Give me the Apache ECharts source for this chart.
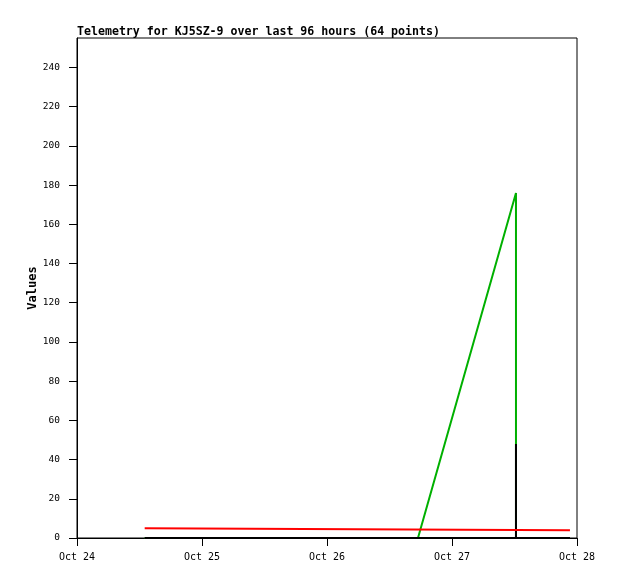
<!DOCTYPE html>
<html>
<head>
<meta charset="utf-8">
<script src="https://cdn.jsdelivr.net/npm/echarts@6/dist/echarts.min.js"></script>
<style>
html,body{margin:0;padding:0;background:#fff;}
#c{width:618px;height:579px;}
</style>
</head>
<body>
<div id="c"></div>
<script>
// ---- data ----
var titleText = 'Telemetry for KJ5SZ-9 over last 96 hours (64 points)';
var yName = 'Values';
var xStart = '2024-10-24T00:00:00Z';
var xEnd = '2024-10-28T00:00:00Z';
var xTickLabels = ['Oct 24', 'Oct 25', 'Oct 26', 'Oct 27', 'Oct 28'];
var yTicks = [0, 20, 40, 60, 80, 100, 120, 140, 160, 180, 200, 220, 240];
var yMax = 255;

var greenTimes = ['2024-10-24T13:00:00Z', '2024-10-26T17:28:00Z', '2024-10-27T12:17:00Z', '2024-10-27T12:17:00Z', '2024-10-27T22:39:00Z'];
var greenValues = [0, 0, 176, 0, 0];

var blackTimes = ['2024-10-24T13:00:00Z', '2024-10-27T12:17:00Z', '2024-10-27T12:17:00Z', '2024-10-27T12:17:00Z', '2024-10-27T22:39:00Z'];
var blackValues = [0, 0, 48, 0, 0];

var redTimes = ['2024-10-24T13:00:00Z', '2024-10-24T13:00:00Z', '2024-10-27T22:39:00Z'];
var redValues = [5, 4, 4];

// ---- build ----
var DAY = 86400000;
function t(s) { return new Date(s).getTime(); }
function pairs(ts, vs) { return ts.map(function (s, i) { return [t(s), vs[i]]; }); }
var xMin = t(xStart), xMax = t(xEnd);
var xTickValues = xTickLabels.map(function (_, i) { return xMin + i * DAY; });

var mono = 'DejaVu Sans Mono';
var chart = echarts.init(document.getElementById('c'), null, { renderer: 'canvas' });
chart.setOption({
  backgroundColor: '#fff',
  animation: false,
  title: {
    text: titleText,
    left: 77, top: 26,
    padding: 0,
    textStyle: { fontFamily: mono, fontSize: 11.6, fontWeight: 'bold', color: '#000' }
  },
  grid: {
    left: 77, right: 41, top: 38, bottom: 41,
    show: true, borderColor: '#000', borderWidth: 1, backgroundColor: '#fff'
  },
  xAxis: {
    type: 'value',
    min: xMin, max: xMax, interval: DAY,
    splitLine: { show: false },
    axisLine: { lineStyle: { color: '#000', width: 1 } },
    axisTick: { length: 8, lineStyle: { color: '#000' }, customValues: xTickValues },
    axisLabel: {
      customValues: xTickValues,
      margin: 14,
      color: '#000', fontFamily: mono, fontSize: 10,
      formatter: function (v) {
        var i = Math.round((v - xMin) / DAY);
        return xTickLabels[i] || '';
      }
    }
  },
  yAxis: {
    type: 'value',
    min: 0, max: yMax, interval: 20,
    name: yName,
    nameLocation: 'middle',
    nameGap: 38,
    nameMoveOverlap: false,
    nameRotate: 90,
    nameTextStyle: { fontFamily: mono, fontSize: 12, fontWeight: 'bold', color: '#000' },
    splitLine: { show: false },
    axisLine: { lineStyle: { color: '#000', width: 1 } },
    axisTick: { length: 8, lineStyle: { color: '#000' }, customValues: yTicks },
    axisLabel: {
      customValues: yTicks,
      margin: 17,
      color: '#000', fontFamily: mono, fontSize: 9.5
    }
  },
  series: [
    { type: 'line', data: pairs(greenTimes, greenValues), symbol: 'none', lineStyle: { color: '#00b000', width: 2 }, z: 2 },
    { type: 'line', data: pairs(blackTimes, blackValues), symbol: 'none', lineStyle: { color: '#000000', width: 2 }, z: 3 },
    { type: 'line', data: pairs(redTimes, redValues), symbol: 'none', lineStyle: { color: '#ff0000', width: 2 }, z: 4 }
  ]
});
</script>
</body>
</html>
